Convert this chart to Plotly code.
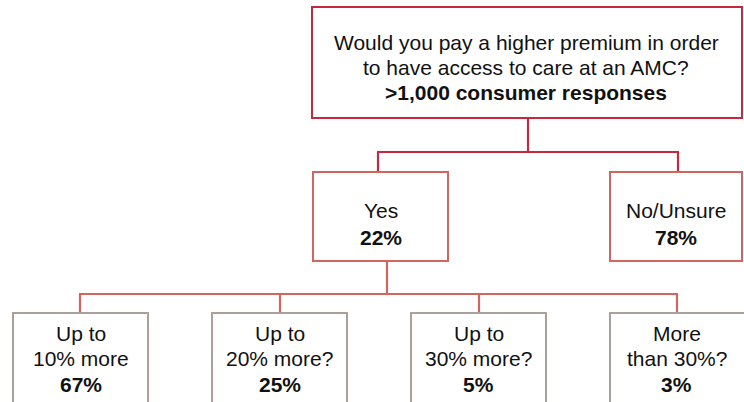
import plotly.graph_objects as go

# ---- data ----
question = ["Would you pay a higher premium in order", "to have access to care at an AMC?"]
sample_label = ">1,000 consumer responses"
level1_labels = ["Yes", "No/Unsure"]
level1_values = [22, 78]
level2_labels = [["Up to", "10% more"], ["Up to", "20% more?"], ["Up to", "30% more?"], ["More", "than 30%?"]]
level2_values = [67, 25, 5, 3]

# ---- layout (pixel-space positions) ----
W, H = 744, 402
RED = "#C8283F"
LRED = "#D2665F"
GRAY = "#ABA19A"
FONT = "Liberation Sans, Arial, Helvetica, sans-serif"
FS = 21

top_box = (312, 7, 742, 118)
l1_boxes = [(313, 172, 448, 261), (610, 172, 742, 261)]
l2_boxes = [(13, 313, 148, 420), (212, 313, 347, 420), (411, 313, 546, 420), (610, 313, 745, 420)]

shapes = []
annotations = []

def rect(b, color):
    shapes.append(dict(type="rect", xref="x", yref="y", x0=b[0], y0=b[1], x1=b[2], y1=b[3],
                       line=dict(color=color, width=2), fillcolor="white", layer="above"))

def line(x0, y0, x1, y1, color):
    shapes.append(dict(type="line", xref="x", yref="y", x0=x0, y0=y0, x1=x1, y1=y1,
                       line=dict(color=color, width=2.2), layer="below"))

def text(x, y, s, size=FS):
    annotations.append(dict(x=x, y=y, xref="x", yref="y", text=s, showarrow=False,
                            font=dict(family=FONT, size=size, color="#111111"),
                            xanchor="center", yanchor="middle"))

# connectors level 0 -> 1
tcx = 528
l1_cx = [378, 678]
yb1 = 152
line(tcx, top_box[3], tcx, yb1, RED)
line(l1_cx[0] - 1, yb1, l1_cx[1] + 1, yb1, RED)
for cx in l1_cx:
    line(cx, yb1, cx, l1_boxes[0][1], RED)

# connectors level 1 -> 2
ycx = 387
yb2 = 294
l2_cx = [80, 280, 479, 677]
line(ycx, l1_boxes[0][3], ycx, yb2, LRED)
line(l2_cx[0] - 1, yb2, l2_cx[-1] + 1, yb2, LRED)
for cx in l2_cx:
    line(cx, yb2, cx, l2_boxes[0][1], LRED)

rect(top_box, RED)
for b in l1_boxes:
    rect(b, LRED)
for b in l2_boxes:
    rect(b, GRAY)

# texts
text(526, 42, question[0])
text(526, 67, question[1])
text(526, 92, "<b>" + sample_label + "</b>")
for b, lab, v in zip(l1_boxes, level1_labels, level1_values):
    cx = (b[0] + b[2]) / 2
    text(cx, 210, lab)
    text(cx, 237, f"<b>{v}%</b>")
for b, lab, v in zip(l2_boxes, level2_labels, level2_values):
    cx = (b[0] + min(b[2], 743)) / 2
    text(cx, 333, lab[0])
    text(cx, 358, lab[1])
    text(cx, 384, f"<b>{v}%</b>")

fig = go.Figure()
fig.add_trace(go.Scatter(x=[0, W], y=[0, H], mode="markers", marker=dict(opacity=0),
                         hoverinfo="skip", showlegend=False))
fig.update_layout(
    width=W, height=H, margin=dict(l=0, r=0, t=0, b=0),
    paper_bgcolor="white", plot_bgcolor="white",
    xaxis=dict(range=[0, W], visible=False, fixedrange=True),
    yaxis=dict(range=[H, 0], visible=False, fixedrange=True),
    shapes=shapes, annotations=annotations, showlegend=False,
)
fig.write_html("out.html", config=dict(displayModeBar=False),
               post_script="document.body.style.margin='0';document.body.style.overflow='hidden';")
